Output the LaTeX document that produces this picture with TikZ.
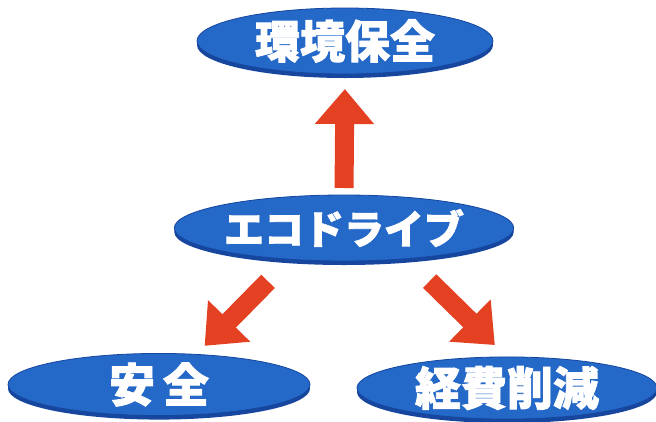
\documentclass[tikz,border=0pt]{standalone}
\usepackage{fontspec}
\newfontfamily\jp{Noto Sans CJK JP}[BoldFeatures={FakeBold=1.8}]
\usetikzlibrary{arrows.meta,shapes.geometric,shadows}
\definecolor{eblue}{RGB}{36,104,200}
\definecolor{erim}{RGB}{22,70,158}
\definecolor{ared}{RGB}{228,64,34}
\begin{document}
\begin{tikzpicture}[x=1pt,y=-1pt,
  oval/.style={ellipse, fill=eblue, draw=erim, line width=0.8pt, text=white, inner sep=0pt, outer sep=0pt,
    drop shadow={shadow xshift=0pt, shadow yshift=-4pt, fill=erim, opacity=1}},
  bigarrow/.style={draw=ared, line width=19pt, -{Triangle[width=57pt,length=35pt]}}]
\useasboundingbox (0,0) rectangle (656,421);
\node[oval, minimum width=296pt, minimum height=66pt, font=\jp\bfseries\fontsize{45}{45}\selectfont] (top) at (345,41) {環境保全};
\node[oval, minimum width=300pt, minimum height=66pt, font=\jp\bfseries\fontsize{40}{40}\selectfont] (mid) at (344,228) {エコドライブ};
\node[oval, minimum width=302pt, minimum height=59pt, font=\jp\bfseries\fontsize{46}{46}\selectfont] (bl) at (159,384.5) {安\hspace{8pt}全};
\node[oval, minimum width=300pt, minimum height=58pt, font=\jp\bfseries\fontsize{46}{46}\selectfont] (rt) at (507,388) {経費削減};
\draw[bigarrow, shorten <=7pt, shorten >=15pt] (mid.north) -- (top.south);
\draw[bigarrow, shorten <=31pt, shorten >=12pt] (mid.210) -- (bl.39.2);
\draw[bigarrow, shorten <=32pt, shorten >=17pt] (mid.334) -- (rt.90);
\end{tikzpicture}
\end{document}
